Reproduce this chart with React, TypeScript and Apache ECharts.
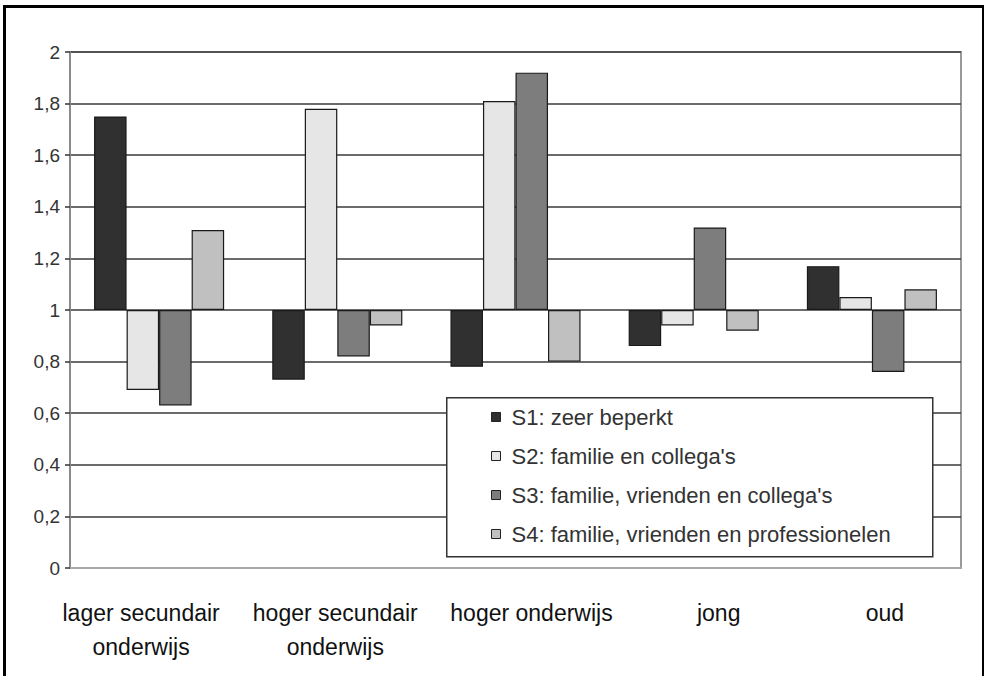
import React, { useEffect, useRef } from 'react';
import * as echarts from 'echarts';

const categories = [
  'lager secundair\nonderwijs',
  'hoger secundair\nonderwijs',
  'hoger onderwijs',
  'jong',
  'oud',
];
const seriesNames = [
  'S1: zeer beperkt',
  "S2: familie en collega's",
  "S3: familie, vrienden en collega's",
  'S4: familie, vrienden en professionelen',
];
const s1 = [1.75, 0.73, 0.78, 0.86, 1.17];
const s2 = [0.69, 1.78, 1.81, 0.94, 1.05];
const s3 = [0.63, 0.82, 1.92, 1.32, 0.76];
const s4 = [1.31, 0.94, 0.8, 0.92, 1.08];
const yTickLabels = ['0', '0,2', '0,4', '0,6', '0,8', '1', '1,2', '1,4', '1,6', '1,8', '2'];
const BASELINE = 1;

const colors = ['#303030', '#e6e6e6', '#7d7d7d', '#c0c0c0'];
// small horizontal offsets of the category labels as printed in the source
const labelShift = [-18, -2, 16, 25, 13];

export default function App() {
  const ref = useRef<HTMLDivElement>(null);
  useEffect(() => {
    if (!ref.current) return;
    const chart = echarts.init(ref.current, null, { renderer: 'svg' });
    const font = 'Liberation Sans, Arial, Helvetica, sans-serif';
    const rich: Record<string, any> = {};
    labelShift.forEach((d, i) => {
      rich['c' + i] = {
        fontFamily: font,
        fontSize: 23,
        lineHeight: 34,
        color: '#111',
        padding: d < 0 ? [0, -2 * d, 0, 0] : [0, 0, 0, 2 * d],
      };
    });
    const data = [s1, s2, s3, s4];
    const splitColors = yTickLabels.map((_, i) => (i === 0 ? '#a8a8a8' : '#3a3a3a'));
    chart.setOption({
      animation: false,
      backgroundColor: '#fff',
      textStyle: { fontFamily: font },
      grid: {
        left: 70,
        right: 23,
        top: 52,
        bottom: 108,
        show: true,
        borderColor: '#9a9a9a',
        borderWidth: 2,
        backgroundColor: 'transparent',
      },
      xAxis: {
        type: 'category',
        data: categories,
        axisLine: { onZero: false, show: true, lineStyle: { color: '#a8a8a8', width: 2 } },
        axisTick: { show: false },
        axisLabel: {
          interval: 0,
          margin: 28,
          formatter: (v: string, i: number) =>
            v
              .split('\n')
              .map((line) => `{c${i}|${line}}`)
              .join('\n'),
          rich,
        },
      },
      yAxis: {
        type: 'value',
        min: -1,
        max: 1,
        interval: 0.2,
        axisLine: { show: true, lineStyle: { color: '#8a8a8a', width: 2 } },
        axisTick: { show: true, length: 5, lineStyle: { color: '#333', width: 1.5 } },
        axisLabel: {
          margin: 10,
          fontSize: 19,
          color: '#333',
          fontFamily: font,
          formatter: (v: number) => yTickLabels[Math.round((v + BASELINE) / 0.2)] ?? '',
        },
        splitLine: { show: true, lineStyle: { color: splitColors, width: 1.6 } },
      },
      legend: {
        show: true,
        orient: 'vertical',
        left: 491,
        top: 405,
        itemWidth: 9,
        itemHeight: 9,
        itemGap: 15,
        icon: 'rect',
        padding: 0,
        z: 20,
        data: seriesNames,
        textStyle: {
          fontFamily: font,
          fontSize: 22,
          lineHeight: 24,
          color: '#333',
          padding: [0, 0, 0, 6],
        },
        itemStyle: { borderColor: '#222', borderWidth: 1 },
      },
      graphic: [
        {
          type: 'rect',
          left: 446,
          top: 397,
          z: 10,
          shape: { width: 486, height: 159 },
          style: { fill: '#fff', stroke: '#333', lineWidth: 1.5 },
        },
        {
          type: 'rect',
          left: 2,
          top: 4,
          z: 30,
          silent: true,
          shape: { width: 979, height: 700 },
          style: { fill: 'none', stroke: '#000', lineWidth: 3 },
        },
      ],
      series: seriesNames.map((name, k) => ({
        name,
        type: 'bar',
        barGap: '0%',
        barCategoryGap: '27%',
        data: data[k].map((v) => +(v - BASELINE).toFixed(4)),
        itemStyle: { color: colors[k], borderColor: '#1a1a1a', borderWidth: 1.2 },
      })),
    });
    return () => chart.dispose();
  }, []);
  return (
    <div
      ref={ref}
      style={{ position: 'fixed', left: 0, top: 0, width: 984, height: 676, background: '#fff' }}
    />
  );
}
